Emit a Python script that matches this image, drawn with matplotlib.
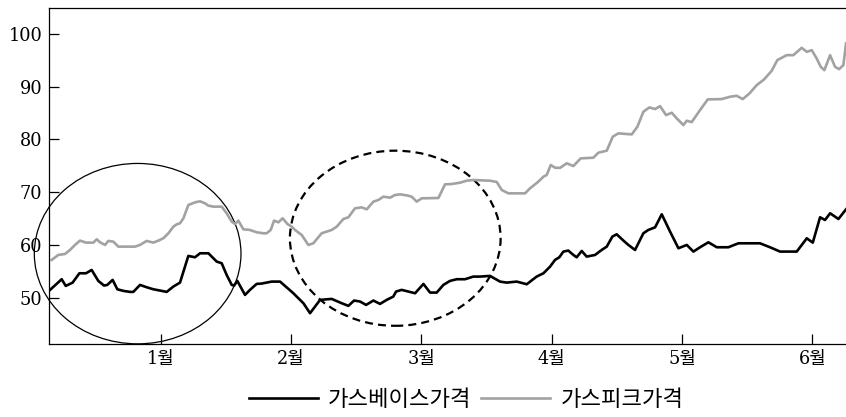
import matplotlib
matplotlib.use('Agg')
import matplotlib.pyplot as plt
from matplotlib.patches import Ellipse
from matplotlib.lines import Line2D

# x positions in month units (1 = 1월, 2 = 2월, ...)
base_x = [0.145, 0.240, 0.271, 0.324, 0.376, 0.427, 0.470, 0.521, 0.565, 0.590,
          0.631, 0.667, 0.713, 0.764, 0.790, 0.841, 0.892, 0.943, 0.995, 1.046,
          1.097, 1.148, 1.212, 1.263, 1.302, 1.366, 1.430, 1.468, 1.506, 1.545,
          1.563, 1.588, 1.647, 1.685, 1.736, 1.775, 1.852, 1.916, 2.018, 2.095,
          2.146, 2.223, 2.312, 2.389, 2.440, 2.484, 2.530, 2.576, 2.632, 2.683,
          2.734, 2.785, 2.806, 2.849, 2.901, 2.952, 3.016, 3.067, 3.118, 3.169,
          3.220, 3.272, 3.335, 3.399, 3.451, 3.527, 3.604, 3.655, 3.732, 3.809,
          3.885, 3.937, 3.988, 4.026, 4.059, 4.090, 4.128, 4.167, 4.192, 4.231,
          4.269, 4.333, 4.384, 4.423, 4.466, 4.499, 4.551, 4.589, 4.640, 4.704,
          4.742, 4.794, 4.845, 4.909, 4.973, 5.037, 5.088, 5.139, 5.203, 5.267,
          5.356, 5.433, 5.599, 5.676, 5.753, 5.881, 5.958, 6.004, 6.060, 6.098,
          6.137, 6.201, 6.259]
base_y = [51.33, 53.48, 52.21, 52.84, 54.61, 54.61, 55.24, 53.16, 52.28, 52.40,
          53.35, 51.58, 51.27, 51.08, 51.08, 52.40, 51.96, 51.58, 51.33, 51.08,
          52.09, 52.84, 57.90, 57.64, 58.40, 58.40, 56.82, 56.51, 54.30, 52.40,
          52.28, 53.16, 50.51, 51.46, 52.59, 52.66, 53.03, 53.03, 50.82, 48.93,
          47.04, 49.56, 49.75, 48.93, 48.43, 49.44, 49.25, 48.61, 49.44, 48.80,
          49.56, 50.19, 51.14, 51.46, 51.14, 50.82, 52.59, 50.95, 50.95, 52.40,
          53.16, 53.48, 53.48, 53.98, 53.98, 54.11, 53.03, 52.84, 53.03, 52.53,
          53.98, 54.61, 55.87, 57.14, 57.64, 58.72, 58.91, 58.08, 57.64, 58.84,
          57.77, 58.08, 59.03, 59.66, 61.56, 62.00, 60.80, 59.98, 59.03, 62.19,
          62.82, 63.32, 65.79, 62.50, 59.35, 59.98, 58.72, 59.54, 60.48, 59.54,
          59.54, 60.29, 60.29, 59.54, 58.72, 58.72, 61.24, 60.42, 65.22, 64.71,
          65.98, 64.90, 66.73]

peak_x = [0.163, 0.214, 0.266, 0.304, 0.342, 0.381, 0.427, 0.483, 0.509, 0.534,
          0.573, 0.598, 0.636, 0.675, 0.803, 0.841, 0.892, 0.943, 0.982, 1.020,
          1.059, 1.097, 1.123, 1.148, 1.174, 1.212, 1.263, 1.302, 1.340, 1.366,
          1.404, 1.468, 1.506, 1.545, 1.570, 1.596, 1.634, 1.685, 1.736, 1.788,
          1.813, 1.844, 1.870, 1.903, 1.936, 1.972, 2.005, 2.031, 2.082, 2.133,
          2.171, 2.235, 2.312, 2.351, 2.402, 2.440, 2.491, 2.542, 2.581, 2.632,
          2.670, 2.709, 2.760, 2.798, 2.837, 2.888, 2.926, 2.965, 3.003, 3.131,
          3.182, 3.233, 3.297, 3.348, 3.399, 3.527, 3.579, 3.617, 3.668, 3.796,
          3.834, 3.898, 3.937, 3.962, 3.993, 4.026, 4.065, 4.116, 4.167, 4.223,
          4.320, 4.359, 4.423, 4.469, 4.512, 4.615, 4.658, 4.704, 4.750, 4.794,
          4.832, 4.878, 4.922, 4.960, 5.011, 5.037, 5.075, 5.139, 5.198, 5.305,
          5.369, 5.420, 5.466, 5.518, 5.574, 5.630, 5.689, 5.732, 5.804, 5.855,
          5.919, 5.958, 5.996, 6.034, 6.065, 6.093, 6.137, 6.175, 6.206, 6.239,
          6.259]
peak_y = [57.14, 58.08, 58.27, 59.03, 59.98, 60.80, 60.42, 60.42, 61.05, 60.48,
          59.98, 60.74, 60.61, 59.66, 59.66, 59.98, 60.74, 60.42, 60.80, 61.24,
          62.19, 63.45, 63.89, 64.08, 65.03, 67.55, 68.06, 68.25, 67.87, 67.43,
          67.24, 67.24, 65.98, 64.40, 63.96, 64.59, 62.95, 62.82, 62.38, 62.19,
          62.19, 62.82, 64.59, 64.27, 65.03, 63.96, 63.45, 62.82, 61.87, 59.98,
          60.29, 62.19, 62.82, 63.45, 64.90, 65.22, 66.92, 67.11, 66.73, 68.19,
          68.50, 69.13, 68.94, 69.45, 69.57, 69.38, 69.13, 68.19, 68.82, 68.88,
          71.47, 71.53, 71.78, 72.16, 72.29, 72.16, 71.91, 70.40, 69.76, 69.76,
          70.71, 71.97, 72.92, 73.24, 75.13, 74.62, 74.60, 75.45, 74.94, 76.39,
          76.52, 77.47, 77.85, 80.50, 81.13, 80.94, 82.39, 85.23, 86.05, 85.74,
          86.30, 84.60, 85.04, 83.97, 82.71, 83.53, 83.27, 85.55, 87.57, 87.63,
          88.07, 88.26, 87.63, 88.70, 90.28, 91.35, 93.00, 95.02, 95.96, 95.96,
          97.35, 96.59, 96.91, 95.33, 93.75, 93.12, 95.96, 93.75, 93.31, 94.07,
          98.17]

month_ticks = [1, 2, 3, 4, 5, 6]
month_labels = ['1월', '2월', '3월', '4월', '5월', '6월']
y_ticks = [50, 60, 70, 80, 90, 100]
series_names = ['가스베이스가격', '가스피크가격']

FAM = ['DejaVu Serif', 'Noto Sans CJK KR']
plt.rcParams['font.family'] = FAM

fig = plt.figure(figsize=(8.46, 4.17), dpi=100)
ax = fig.add_axes([49.3 / 846, 73 / 417, (846 - 49.3) / 846, (344 - 8) / 417])

ax.plot(base_x, base_y, color='black', lw=1.9, label=series_names[0])
ax.plot(peak_x, peak_y, color='#a2a2a2', lw=1.9, label=series_names[1])

ax.set_xlim(0.145, 6.259)
ax.set_ylim(41.2, 104.9)
ax.set_xticks(month_ticks)
ax.set_xticklabels(month_labels)
ax.set_yticks(y_ticks)
ax.tick_params(axis='both', direction='in', length=7, width=0.9,
               labelsize=12.8, colors='black')
ax.tick_params(axis='y', pad=5)
ax.tick_params(axis='x', pad=4)
for lab in ax.get_xticklabels() + ax.get_yticklabels():
    lab.set_family(FAM)
for s in ['left', 'bottom', 'top']:
    ax.spines[s].set_linewidth(0.9)
ax.spines['right'].set_visible(False)

# highlight ellipses
e1 = Ellipse((0.823, 58.33), 1.586, 34.2, fill=False, ec='black', lw=0.9,
             clip_on=False)
e2 = Ellipse((2.800, 61.25), 1.617, 33.2, fill=False, ec='black', lw=1.6,
             ls=(0, (3.6, 2.3)), clip_on=False)
ax.add_patch(e1)
ax.add_patch(e2)

handles = [Line2D([], [], color='black', lw=1.9),
           Line2D([], [], color='#a2a2a2', lw=1.9)]
fig.legend(handles, series_names, loc='center', bbox_to_anchor=(0.551, 0.041),
           ncol=2, frameon=False, handlelength=3.1, handletextpad=0.45,
           columnspacing=0.45, prop={'family': FAM, 'size': 16})

fig.savefig('out.png', dpi=100)
